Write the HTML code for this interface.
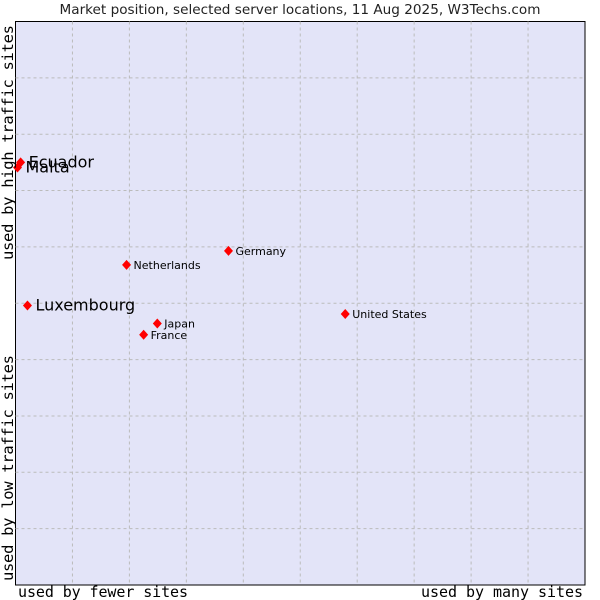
<!DOCTYPE html>
<html><head><meta charset="utf-8"><style>
body{margin:0;background:#fff;width:600px;height:600px;overflow:hidden}
svg{display:block}
</style></head><body>
<svg width="600" height="600">
<text x="300" y="14" text-anchor="middle" font-family="DejaVu Sans, sans-serif" font-size="13.6" fill="#222">Market position, selected server locations, 11 Aug 2025, W3Techs.com</text>
<rect x="15.5" y="21.5" width="569.5" height="563.5" fill="#e3e4f8" stroke="#000" stroke-width="1"/>
<g id="grid"></g>
<g id="pts"></g>
<text x="18" y="597" textLength="170" font-family="DejaVu Sans Mono, monospace" font-size="15" fill="#000">used by fewer sites</text>
<text x="421" y="597" textLength="162" font-family="DejaVu Sans Mono, monospace" font-size="15" fill="#000">used by many sites</text>
<text transform="translate(13,260) rotate(-90)" textLength="235" font-family="DejaVu Sans Mono, monospace" font-size="15.5" fill="#000">used by high traffic sites</text>
<text transform="translate(13,581) rotate(-90)" textLength="226" font-family="DejaVu Sans Mono, monospace" font-size="15.5" fill="#000">used by low traffic sites</text>
</svg>
<script>
const countries=["Ecuador","Malta","Luxembourg","Netherlands","Germany","Japan","France","United States"];
const xValues=[0.9,0.35,2.1,19.5,37.4,24.9,22.5,57.9];
const yValues=[75,74.1,49.6,56.8,59.3,46.4,44.4,48.1];
const bigLabel=[true,true,true,false,false,false,false,false];
const L=15.5,R=585,T=21.5,B=585;
const sx=v=>L+(R-L)*v/100, sy=v=>B-(B-T)*v/100;
const ns="http://www.w3.org/2000/svg";
const grid=document.getElementById('grid');
for(let i=1;i<10;i++){
  const v=document.createElementNS(ns,'line');
  v.setAttribute('x1',sx(i*10));v.setAttribute('x2',sx(i*10));v.setAttribute('y1',T);v.setAttribute('y2',B);
  v.setAttribute('stroke','#bbb');v.setAttribute('stroke-dasharray','3,3');
  
  
  grid.appendChild(v);
  const h=document.createElementNS(ns,'line');
  h.setAttribute('y1',sy(i*10));h.setAttribute('y2',sy(i*10));h.setAttribute('x1',L);h.setAttribute('x2',R);
  h.setAttribute('stroke','#bbb');h.setAttribute('stroke-dasharray','3,3');
  
  
  grid.appendChild(h);
}
const pts=document.getElementById('pts');
countries.forEach((c,i)=>{
  const x=sx(xValues[i]),y=sy(yValues[i]);
  const p=document.createElementNS(ns,'path');
  p.setAttribute('d',`M${x} ${y-5}L${x+4.5} ${y}L${x} ${y+5}L${x-4.5} ${y}Z`);
  p.setAttribute('fill','#f00');
  
  
  pts.appendChild(p);
  const t=document.createElementNS(ns,'text');
  const big=bigLabel[i];
  t.setAttribute('x',x+(big?8:7));t.setAttribute('y',y+(big?5:4));
  t.setAttribute('font-family','DejaVu Sans, sans-serif');
  t.setAttribute('font-size',big?'16':'11');
  t.setAttribute('fill','#000');
  t.textContent=c;
  
  
  pts.appendChild(t);
});
</script>
</body></html>
